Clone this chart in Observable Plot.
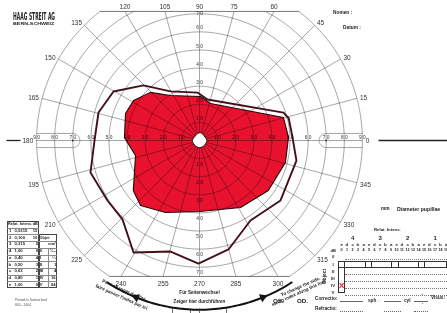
<!DOCTYPE html>
<html><head><meta charset="utf-8">
<script src="https://cdn.jsdelivr.net/npm/d3@7"></script>
<script src="https://cdn.jsdelivr.net/npm/@observablehq/plot@0.6"></script>
<style>
html,body{margin:0;padding:0;background:#fff;}
#wrap{position:relative;width:447px;height:313px;overflow:hidden;font-family:"Liberation Sans",Arial,sans-serif;}
#wrap svg{position:absolute;left:0;top:0;}
.t{position:absolute;white-space:nowrap;line-height:1;color:#222;}
.ln{position:absolute;}
</style></head><body><div id="wrap"></div>
<script>
// ---------------- data ----------------
const ringEcc = [10, 20, 30, 40, 50, 60, 70, 80, 90];
const meridianDeg = [0, 15, 30, 45, 60, 75, 90, 105, 120, 135, 150, 165, 180, 195, 210, 225, 240, 255, 270, 285, 300, 315, 330, 345];
const verticalEccLabels = [10, 20, 30, 40, 50, 60, 70];
const horizontalEccLabels = [10, 20, 30, 40, 50, 60, 70, 80, 90];

// outer isopter (dark line): meridian angle (deg) and eccentricity (deg)
const outerAngle = [2, 14, 18.4, 79, 92.4, 120.6, 135.5, 150.3, 164.5, 180, 196.4, 213.1, 225.7, 239.5, 255.4, 269.5, 284.9, 302.5, 323.5, 348.3];
const outerEcc   = [51.4, 50.8, 48.9, 23.1, 26.5, 31.5, 43.4, 54.7, 57.9, 58, 62.8, 60.7, 60.9, 71.8, 63.4, 68, 62.3, 52.4, 55.7, 54.7];

// inner isopter (red filled area)
const innerAngle = [2, 15.3, 73.4, 88.7, 122.8, 135.6, 148.8, 160, 177.7, 185.8, 193.2, 217, 227.8, 244.7, 270, 301.5, 324, 345.7];
const innerEcc   = [49.2, 48.1, 21.3, 24.3, 29.6, 38, 42.6, 43.5, 41.5, 38.3, 36.3, 45.8, 48.5, 44, 39.2, 43.4, 47, 49];

// central unseen area (white)
const holeAngle = [0, 40, 80, 100, 140, 180, 220, 270, 320];
const holeEcc   = [4, 3.6, 4.3, 4.1, 3.4, 3.9, 3.7, 4, 3.8];

// legend tables
const intensNum = ["1", "2", "3", "4", "a", "b", "c", "d", "e"];
const intensVal = ["0,0315", "0,100", "0,315", "1,00", "0,40", "0,50", "0,63", "0,80", "1,00"];
const intensDb  = ["15", "10", "5", "0", "4", "3", "2", "1", "0"];
const objectName = ["0", "I", "II", "III", "IV", "V"];
const objectArea = ["¹⁄₁₆", "¼", "1", "4", "16", "64"];
const groupLabels = ["4", "3", "2", "1"];
const filterLetters = ["e", "d", "c", "b", "a"];
const dbSteps = d3.range(20);
const markedObject = "IV";
const markedDb = 0;

// ---------------- layout ----------------
const W = 447, H = 313, CX = 199, CY = 140, S = 1.81;
const TOP_CLIP = 71.3, BOT_CLIP = -75.1, R90 = 90;
const rad = d => d * Math.PI / 180, deg = r => r * 180 / Math.PI;
const pol = (a, e) => ({x: e * Math.cos(rad(a)), y: e * Math.sin(rad(a))});
const fx = px => (px - CX) / S, fy = py => (CY - py) / S;

function arcPts(r, a0, a1, id, step = 1) {
  const n = Math.max(2, Math.ceil(Math.abs(a1 - a0) / step));
  return d3.range(n + 1).map(i => ({...pol(a0 + (a1 - a0) * i / n, r), id}));
}
function rayEnd(a) {
  const s = Math.sin(rad(a)); let e = R90;
  if (s > 1e-9) e = Math.min(e, TOP_CLIP / s);
  if (s < -1e-9) e = Math.min(e, BOT_CLIP / s);
  return e;
}

const ringPts = ringEcc.flatMap(r => {
  if (r <= TOP_CLIP && r <= -BOT_CLIP) return arcPts(r, 0, 360, "r" + r);
  const at = r > TOP_CLIP ? deg(Math.asin(TOP_CLIP / r)) : 90;
  const ab = r > -BOT_CLIP ? deg(Math.asin(-BOT_CLIP / r)) : 90;
  return [...arcPts(r, -ab, at, "r" + r + "a"), ...arcPts(r, 180 - at, 180 + ab, "r" + r + "b")];
});
const radials = meridianDeg.map(a => {
  const p1 = pol(a, 3), p2 = pol(a, rayEnd(a));
  return {x1: p1.x, y1: p1.y, x2: p2.x, y2: p2.y};
});
const topHalf = Math.sqrt(R90 * R90 - TOP_CLIP * TOP_CLIP), botHalf = Math.sqrt(R90 * R90 - BOT_CLIP * BOT_CLIP);
const chords = [
  {x1: -topHalf, y1: TOP_CLIP, x2: topHalf, y2: TOP_CLIP},
  {x1: -botHalf, y1: BOT_CLIP, x2: botHalf, y2: BOT_CLIP}
];
// horizontal "pill" tabs between 70 and 90 deg
const PH = 3.9, pillEnd = Math.sqrt(R90 * R90 - PH * PH);
const pillLines = [
  {x1: 70, y1: PH, x2: pillEnd, y2: PH}, {x1: 70, y1: -PH, x2: pillEnd, y2: -PH},
  {x1: -70, y1: PH, x2: -pillEnd, y2: PH}, {x1: -70, y1: -PH, x2: -pillEnd, y2: -PH}
];
const pillCaps = [
  ...d3.range(91).map(i => { const a = rad(90 + i * 2); return {x: 70 + PH * Math.cos(a), y: PH * Math.sin(a), id: "R"}; }),
  ...d3.range(91).map(i => { const a = rad(-90 + i * 2); return {x: -70 + PH * Math.cos(a), y: PH * Math.sin(a), id: "L"}; })
];
const axisExt = [{x1: fx(378), x2: fx(447), y: 0}, {x1: fx(6), x2: fx(20), y: 0}];

const outerPts = outerAngle.map((a, i) => pol(a, outerEcc[i]));
const innerPts = innerAngle.map((a, i) => pol(a, innerEcc[i]));
const holePts = holeAngle.map((a, i) => pol(a, holeEcc[i]));

const mLabels = meridianDeg.map(a => {
  const s = Math.sin(rad(a)), c = Math.cos(rad(a)), e = rayEnd(a);
  if (e < R90 - 1e-6 && s > 0) return {a, x: e * c, y: TOP_CLIP + 2.6, anchor: "middle"};
  if (e < R90 - 1e-6 && s < 0) return {a, x: e * c, y: BOT_CLIP - 4, anchor: "middle"};
  const p = pol(a, 91.8);
  return {a, x: p.x, y: p.y - (s < -0.1 ? 0.8 : 0), anchor: c > 0.05 ? "start" : c < -0.05 ? "end" : "middle"};
});
const eccLabels = [
  ...verticalEccLabels.map(n => ({t: n, x: 0, y: Math.min(n + 2.2, 70.3)})),
  ...verticalEccLabels.map(n => ({t: n, x: 0, y: -Math.min(n + 3, 73.5)})),
  ...horizontalEccLabels.map(n => ({t: n, x: n, y: 1.7})),
  ...horizontalEccLabels.map(n => ({t: n, x: -n, y: 1.7}))
];

const ARC_R = 93.5;
const sideArc = arcPts(ARC_R, 237, 303, "arc");
const arrows = [{...pol(248, ARC_R), rot: -68}, {...pol(292, ARC_R), rot: 68}];
const bottomTicks = [172, 190, 199, 226].map(px => ({x: fx(px)}));

const gridStroke = "#6a6a6a";
const chart = Plot.plot({
  width: W, height: H, margin: 0,
  x: {domain: [fx(0), fx(W)], axis: null},
  y: {domain: [fy(H), fy(0)], axis: null},
  style: {background: "transparent", fontFamily: "'Liberation Sans', Arial, sans-serif"},
  marks: [
    Plot.line(innerPts, {x: "x", y: "y", curve: "linear-closed", fill: "#e8122e", stroke: "none"}),
    Plot.line(ringPts, {x: "x", y: "y", z: "id", stroke: gridStroke, strokeWidth: 0.6, mixBlendMode: "multiply"}),
    Plot.link(radials, {x1: "x1", y1: "y1", x2: "x2", y2: "y2", stroke: gridStroke, strokeWidth: 0.6, mixBlendMode: "multiply"}),
    Plot.link(chords, {x1: "x1", y1: "y1", x2: "x2", y2: "y2", stroke: "#555", strokeWidth: 0.8}),
    Plot.link(pillLines, {x1: "x1", y1: "y1", x2: "x2", y2: "y2", stroke: gridStroke, strokeWidth: 0.6}),
    Plot.line(pillCaps, {x: "x", y: "y", z: "id", stroke: gridStroke, strokeWidth: 0.6}),
    Plot.dot([{x: 70}, {x: -70}], {x: "x", y: () => 0, r: 0.9, fill: "#333"}),
    Plot.link(axisExt, {x1: "x1", x2: "x2", y1: "y", y2: "y", stroke: "#222", strokeWidth: 1.3}),
    Plot.line(innerPts, {x: "x", y: "y", curve: "linear-closed", stroke: "#2a0508", strokeWidth: 1.1}),
    Plot.line(outerPts, {x: "x", y: "y", curve: "linear-closed", stroke: "#45101a", strokeWidth: 1.9, strokeLinejoin: "miter"}),
    Plot.line(holePts, {x: "x", y: "y", curve: "catmull-rom-closed", fill: "#fff", stroke: "#111", strokeWidth: 1}),
    Plot.text(eccLabels, {x: "x", y: "y", text: d => String(d.t).split("").join(" "), fontSize: 4.8, fill: "#333", mixBlendMode: "multiply"}),
    Plot.text(mLabels.filter(d => d.anchor === "middle"), {x: "x", y: "y", text: "a", fontSize: 6.5, fill: "#333", textAnchor: "middle"}),
    Plot.text(mLabels.filter(d => d.anchor === "start"), {x: "x", y: "y", text: "a", fontSize: 6.5, fill: "#333", textAnchor: "start"}),
    Plot.text(mLabels.filter(d => d.anchor === "end"), {x: "x", y: "y", text: "a", fontSize: 6.5, fill: "#333", textAnchor: "end"}),
    Plot.line(sideArc, {x: "x", y: "y", stroke: "#111", strokeWidth: 2}),
    Plot.dot(arrows, {x: "x", y: "y", symbol: "triangle", r: 3.2, fill: "#111", stroke: "none", rotate: "rot"}),
    Plot.text(["Für Seitenwechsel", "Zeiger hier durchführen"], {x: () => 0, y: (d, i) => fy(292 + i * 9), text: d => d, fontSize: 4.6, fontWeight: "bold", fill: "#222"}),
    Plot.text(["Pour changer de côté,", "faire passer l'index par ici"], {x: (d, i) => fx(124 - i * 3), y: (d, i) => fy(290 + i * 6.5), text: d => d, fontSize: 4.6, fontWeight: "bold", fill: "#222", rotate: 24}),
    Plot.text(["To change the side,", "swing index along this line"], {x: (d, i) => fx(300 - i * 2), y: (d, i) => fy(286 + i * 6.5), text: d => d, fontSize: 4.6, fontWeight: "bold", fill: "#222", rotate: -24}),
    Plot.ruleX(bottomTicks, {x: "x", y1: fy(308.5), y2: fy(313), stroke: "#333", strokeWidth: 0.7})
  ]
});
const wrap = document.getElementById("wrap");
wrap.appendChild(chart);

// ---------------- form texts (HTML overlay) ----------------
function txt(s, x, y, o = {}) {
  const d = document.createElement("div");
  d.className = "t"; d.textContent = s;
  d.style.fontSize = (o.size || 5) + "px";
  d.style.fontWeight = o.weight || "bold";
  if (o.color) d.style.color = o.color;
  if (o.family) d.style.fontFamily = o.family;
  if (o.ls) d.style.letterSpacing = o.ls + "px";
  wrap.appendChild(d);
  const w = d.offsetWidth, h = d.offsetHeight;
  let sx = 1;
  if (o.fit) sx = o.fit / w;
  const ax = o.anchor === "middle" ? 0.5 : o.anchor === "end" ? 1 : 0;
  d.style.left = (x - ax * w * sx) + "px";
  d.style.top = (y - h / 2) + "px";
  d.style.transformOrigin = "0 50%";
  let tr = "";
  if (sx !== 1) tr += `scaleX(${sx}) `;
  if (o.rot) { d.style.transformOrigin = "50% 50%"; d.style.left = (x - w / 2) + "px"; tr += `rotate(${o.rot}deg)`; }
  d.style.transform = tr;
  return d;
}
function box(x, y, w, h, css) {
  const d = document.createElement("div");
  d.className = "ln";
  d.style.left = x + "px"; d.style.top = y + "px"; d.style.width = w + "px"; d.style.height = h + "px";
  d.style.cssText += css; wrap.appendChild(d); return d;
}

txt("HAAG STREIT AG", 13, 16, {size: 11, weight: "900", family: "'DejaVu Sans Condensed','Liberation Sans Narrow',sans-serif", fit: 42});
txt("BERN-SCHWEIZ", 13, 25, {size: 3.8, weight: "bold", fit: 42});
txt("Nomen :", 333, 13.5, {size: 4.8});
txt("Datum :", 343, 28.5, {size: 4.8});
txt("mm", 381, 209, {size: 4.8});
txt("Diameter pupillae", 397, 209, {size: 5.2});

// right-bottom intensity grid
const colX = k => 341.5 + 5.5 * k;
txt("Relat. Intens.", 387.5, 230, {size: 4.3, anchor: "middle"});
groupLabels.forEach((g, i) => txt(g, colX(5 * i + 2), 238, {size: 6, anchor: "middle"}));
dbSteps.forEach(k => txt(filterLetters[k % 5], colX(k), 244.5, {size: 4.4, anchor: "middle"}));
txt("dB", 333, 251, {size: 4, anchor: "middle"});
dbSteps.forEach(k => txt(String(k), colX(k), 251, {size: 3.7, anchor: "middle"}));
const rowY = [257, 264.5, 271.5, 278.5, 286, 293];
objectName.forEach((o, i) => txt(o, 333, rowY[i], {size: 4.3, anchor: "middle"}));
txt("Object", 324.5, 276, {size: 5, rot: -90});
[0, 2, 3, 4, 5].forEach(i => box(345, rowY[i] + 2.2, 102, 0, "border-top:0.6px dotted #777;"));
box(338, 261, 109, 7, "border:0.7px solid #333;box-sizing:border-box;");
[365, 371, 391, 398, 418, 424].forEach(xx => box(xx, 261, 0, 7, "border-left:0.7px solid #333;"));
box(338, 261, 7, 32, "border:0.7px solid #333;box-sizing:border-box;");
txt("X", colX(markedDb), rowY[objectName.indexOf(markedObject)], {size: 8, weight: "900", color: "#e8122e", anchor: "middle"});

// bottom form
txt("OS.", 273, 300.5, {size: 6.2});
txt("OD.", 297, 300.5, {size: 6.2});
txt("Correctio:", 315, 299.5, {size: 4.7});
txt("Refractio:", 315, 309, {size: 4.7});
txt("sph ◌", 368, 301, {size: 4.7});
txt("cyl", 404, 301, {size: 4.7});
txt("+", 421, 293.5, {size: 4, weight: "normal"});
txt(".", 422, 302, {size: 5});
txt("Visus:", 431, 298.5, {size: 4.7});
[[340, 363], [384, 401], [414, 428]].forEach(([a, b]) => {
  box(a, 301, b - a, 0, "border-top:0.6px solid #666;");
  box(a, 310.5, b - a, 0, "border-top:0.6px dotted #666;");
});
txt("Printed in Switzerland", 15, 300, {size: 3.3, weight: "normal", color: "#555"});
txt("840 - 2404", 15, 305, {size: 3.3, weight: "normal", color: "#555"});

// left legend tables
const TX = 7, TY = 221, RH = 6.7;
const cw = [6, 18, 7.5, 9, 9.5];
const cx0 = [TX]; cw.forEach((w, i) => cx0.push(cx0[i] + w));
box(TX, TY, cx0[3] - TX, RH * 10, "border:0.6px solid #444;box-sizing:border-box;");
box(cx0[3], TY + RH * 2, cx0[5] - cx0[3], RH * 8, "border:0.6px solid #444;box-sizing:border-box;");
for (let r = 1; r < 10; r++) box(TX, TY + RH * r, cx0[3] - TX, 0, "border-top:0.4px solid #888;");
for (let r = 3; r < 10; r++) box(cx0[3], TY + RH * r, cx0[5] - cx0[3], 0, "border-top:0.4px solid #888;");
box(cx0[4], TY + RH * 4, 0, RH * 6, "border-left:0.4px solid #888;");
const rc = r => TY + RH * (r + 0.5);
txt("Relat. Intens.", TX + 1, rc(0), {size: 3.9});
txt("dB", cx0[3] - 0.8, rc(0), {size: 3.9, anchor: "end"});
intensNum.forEach((n, i) => {
  txt(n, cx0[0] + 3, rc(i + 1), {size: 4.2, anchor: "middle"});
  txt(intensVal[i], cx0[1] + 1.5, rc(i + 1), {size: 4.2});
  txt(intensDb[i], cx0[3] - 0.8, rc(i + 1), {size: 4.2, anchor: "end"});
});
txt("Objet", cx0[3] + 1, rc(2), {size: 3.9});
txt("mm²", cx0[5] - 0.8, rc(3), {size: 3.9, anchor: "end"});
objectName.forEach((o, i) => {
  txt(o, cx0[3] + 1.2, rc(4 + i), {size: 4.2});
  txt(objectArea[i], cx0[5] - 1, rc(4 + i), {size: 4.2, anchor: "end"});
});
</script></body></html>
